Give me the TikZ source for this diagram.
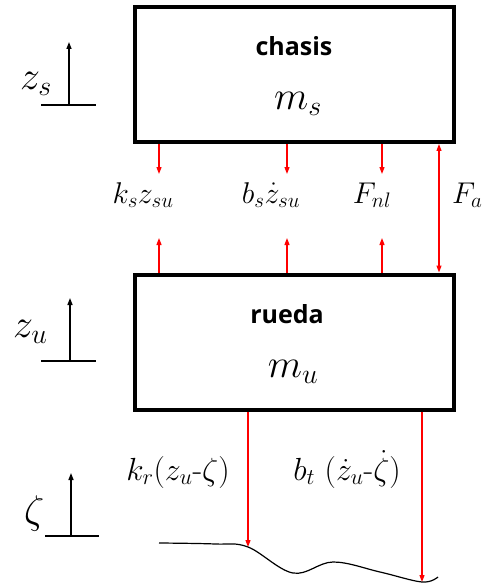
\documentclass[tikz,border=0pt]{standalone}
\usepackage{fix-cm}
\usepackage{fontspec}
\setsansfont{Open Sans}
\usepackage{amsmath}
\usetikzlibrary{arrows.meta}
\newcommand{\massfont}{\fontsize{40}{44}\selectfont}
\newcommand{\forcefont}{\fontsize{30}{34}\selectfont}
\newcommand{\tyrefont}{\fontsize{32}{36}\selectfont}

\begin{document}
\begin{tikzpicture}[x=1pt, y=-1pt, >={Triangle[length=7pt, width=5pt]},
    mass/.style={draw, line width=4pt, minimum width=319pt, minimum height=135pt, inner sep=0pt},
    force/.style={->, red, line width=1.2pt},
    axis/.style={->, black, line width=1.5pt},
    ground/.style={black, line width=2pt}]
  \useasboundingbox (0,0) rectangle (484,588);
  % The two masses
  \node[mass] (chasis) at (294.5,74.5) {};
  \node[mass] (rueda) at (294.5,342) {};
  \node[anchor=base, font=\sffamily\bfseries\fontsize{25}{29}\selectfont] (chasisname) at (294,56) {chasis};
  \node[anchor=base, font=\massfont] (ms) at (298,110) {$m_s$};
  \node[anchor=base, font=\sffamily\bfseries\fontsize{25}{29}\selectfont] (ruedaname) at (287,323) {rueda};
  \node[anchor=base, font=\massfont] (mu) at (293,377) {$m_u$};
  % Suspension forces between chasis and rueda
  \coordinate (ksdown) at (159,174);
  \coordinate (bsdown) at (287,174);
  \coordinate (fndown) at (382,174);
  \coordinate (ksup) at (159,238);
  \coordinate (bsup) at (287,238);
  \coordinate (fnup) at (382,238);
  \coordinate (fa) at (439,200);
  \draw[force] (chasis.south -| ksdown) -- (ksdown);
  \draw[force] (chasis.south -| bsdown) -- (bsdown);
  \draw[force] (chasis.south -| fndown) -- (fndown);
  \draw[force] (rueda.north -| ksup) -- (ksup);
  \draw[force] (rueda.north -| bsup) -- (bsup);
  \draw[force] (rueda.north -| fnup) -- (fnup);
  \draw[force, <->] (chasis.south -| fa) -- (rueda.north -| fa);
  \node[anchor=base, font=\forcefont] (kslabel) at (143,203) {$k_s z_{su}$};
  \node[anchor=base, font=\forcefont] (bslabel) at (271,203) {$b_s \dot{z}_{su}$};
  \node[anchor=base, font=\forcefont] (fnlabel) at (372,203) {$F_{nl}$};
  \node[anchor=base west, inner sep=0pt, font=\forcefont] (falabel) at (452,203) {$F_a$};
  % Tyre forces down to the road
  \coordinate (krroad) at (248,547);
  \coordinate (btroad) at (422,582);
  \draw[force] (rueda.south -| krroad) -- (krroad);
  \draw[force] (rueda.south -| btroad) -- (btroad);
  \node[anchor=base, font=\tyrefont] (krlabel) at (178,480) {$k_r(z_u\mbox{-}\zeta)$};
  \node[anchor=base, font=\tyrefont] (btlabel) at (347,480) {$b_t\ (\dot{z}_u\mbox{-}\dot{\zeta})$};
  % Road profile
  \draw[black, line width=1.2pt] plot[smooth, tension=0.6] coordinates
    {(159,543) (215,544) (krroad) (293,573) (333,562) (380,572) (btroad) (438,577)};
  % Displacement axes
  \foreach \name/\x/\ybase/\ytip/\xa/\xb in {zs/69/105/42/41/96, zu/70/361/298/41/96, zeta/71/536/473/45/99} {
    \coordinate (\name base) at (\x,\ybase);
    \coordinate (\name tip) at (\x,\ytip);
    \coordinate (\name left) at (\xa,\ybase);
    \coordinate (\name right) at (\xb,\ybase);
    \draw[axis] (\name base) -- (\name tip);
    \draw[ground] (\name left) -- (\name right);
  }
  \node[anchor=base west, inner sep=0pt, font=\massfont] (zslabel) at (20,90) {$z_s$};
  \node[anchor=base west, inner sep=0pt, font=\massfont] (zulabel) at (13,337) {$z_u$};
  \node[anchor=base west, inner sep=0pt, font=\massfont] (zetalabel) at (24,523) {$\zeta$};
\end{tikzpicture}
\end{document}
